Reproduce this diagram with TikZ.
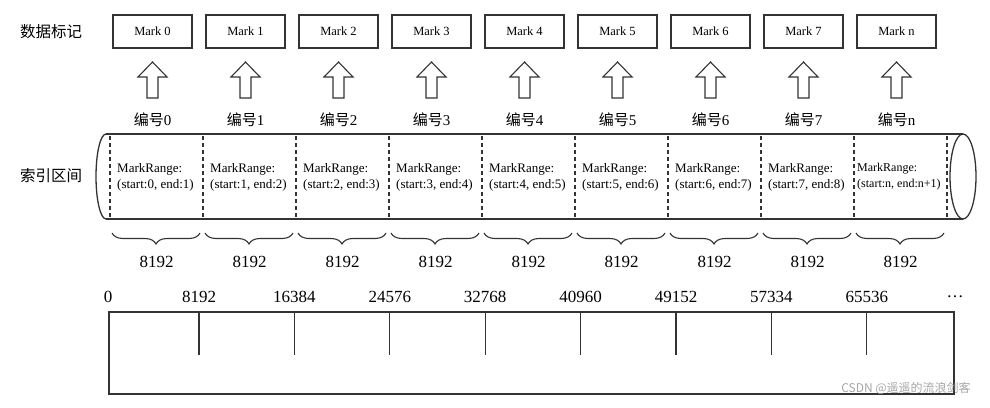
\documentclass[tikz,border=0pt]{standalone}
\usepackage{fontspec}
\setmainfont{Liberation Serif}
\newfontfamily\cjk{Noto Sans CJK SC}
\usetikzlibrary{decorations.pathreplacing}
\tikzset{
  ln/.style={draw=black!80, line width=1.1pt},
  markbox/.style={ln, minimum width=79pt, minimum height=33pt, inner sep=0pt, font=\fontsize{12.5}{14}\selectfont},
  hollow/.style={ln, fill=white, line join=miter},
  numlab/.style={font=\fontsize{15}{17}\selectfont},
  sidelab/.style={font=\cjk\fontsize{15.5}{17}\selectfont},
  rangetxt/.style={anchor=west, align=left, inner sep=0pt, font=\fontsize{13}{16}\selectfont},
  divider/.style={draw=black!80, line width=1.4pt, dash pattern=on 4pt off 3pt},
  bracestyle/.style={draw=black!80, line width=1.1pt, decorate, decoration={brace, mirror, amplitude=11pt}},
  bignum/.style={font=\fontsize{17}{19}\selectfont},
  tick/.style={draw=black!80, line width=1.1pt},
}
\begin{document}
\begin{tikzpicture}[x=1pt, y=-1pt]
\useasboundingbox (0,0) rectangle (990,407);

% side labels
\node[sidelab] (lblmark) at (51,32) {数据标记};
\node[sidelab] (lblidx) at (51,176) {索引区间};

% marks, arrows, numbering labels
\foreach \i/\t in {0/0,1/1,2/2,3/3,4/4,5/5,6/6,7/7,8/n}{
  \pgfmathsetmacro{\cx}{152.5+93*\i}
  \node[markbox] (mark\i) at (\cx,31.5) {Mark \t};
  \draw[hollow] (\cx,62) -- (\cx+14.5,77) -- (\cx+5.5,77) -- (\cx+5.5,98)
     -- (\cx-5.5,98) -- (\cx-5.5,77) -- (\cx-14.5,77) -- cycle;
  \node[numlab] (num\i) at (\cx,120) {{\cjk 编号}\t};
}

% cylinder
\draw[ln, line width=1.3pt] (106,134) -- (963,134);
\draw[ln, line width=1.3pt] (106,219) -- (963,219);
\draw[ln, line width=1.3pt] (106,134) arc[start angle=90, end angle=270, x radius=10pt, y radius=42.5pt];
\draw[ln, line width=1.3pt] (963,176.5) ellipse[x radius=13pt, y radius=42.5pt];

\foreach \k in {0,...,9}{
  \draw[divider] (110+93*\k,136) -- (110+93*\k,218);
}

\foreach \i in {0,...,7}{
  \pgfmathtruncatemacro{\j}{\i+1}
  \node[rangetxt] (range\i) at (117+93*\i,177) {MarkRange:\\(start:\i, end:\j)};
}
\node[rangetxt, font=\fontsize{12}{16}\selectfont] (range8) at (857,177) {MarkRange:\\(start:n, end:n+1)};

% braces and sizes
\foreach \k in {0,...,8}{
  \draw[bracestyle] (112+93*\k,233) -- (200+93*\k,233);
  \node[bignum] (size\k) at (156.5+93*\k,262) {8192};
}

% bottom scale
\draw[ln] (109,312) rectangle (954,394);
\node[bignum] (s0) at (108,297) {0};
\foreach \v [count=\k from 0] in {8192,16384,24576,32768,40960,49152,57334,65536}{
  \draw[tick] (199+95.4*\k,312) -- (199+95.4*\k,355);
  \node[bignum] (s\v) at (199+95.4*\k,297) {\v};
}
\node[bignum] (sdots) at (955,297) {\dots};

% watermark
\node[font=\cjk\fontsize{12}{14}\selectfont, text=black!35] (wm) at (906,388) {CSDN @遥遥的流浪剑客};
\end{tikzpicture}
\end{document}
